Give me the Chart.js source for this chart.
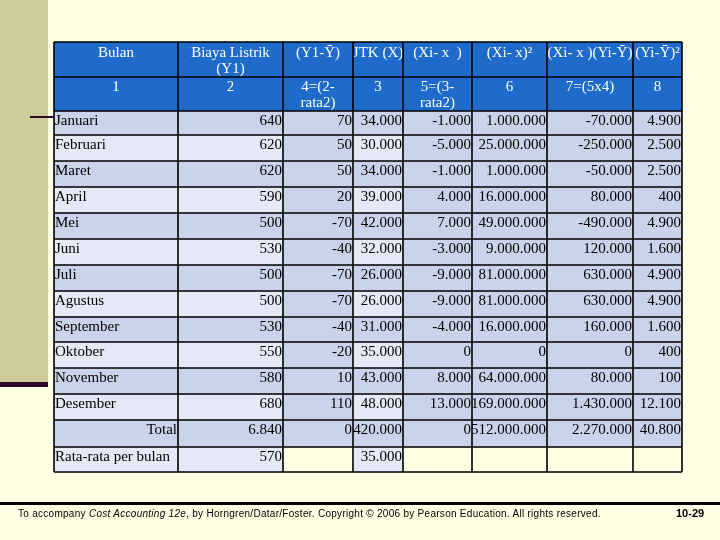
<!DOCTYPE html>
<html>
<head>
<meta charset="utf-8">
<script src="https://cdn.jsdelivr.net/npm/chart.js@4.4.0/dist/chart.umd.min.js"></script>
<style>
    body { margin: 0; background: #FFFFE3; }
    #page { position: relative; width: 720px; height: 540px; overflow: hidden; background: #FFFFE3; }
    #sidebar { position: absolute; left: 0; top: 0; width: 48px; height: 382px; background: #CCCC99; }
    #sidebarLine { position: absolute; left: 0; top: 382px; width: 48px; height: 5px; background: #2D0A2A; }
    #marker { position: absolute; left: 30px; top: 116px; width: 24px; height: 2px; background: #2D0A2A; }
    #chartBox { position: absolute; left: 0; top: 0; width: 720px; height: 540px; }
    #footLine { position: absolute; left: 0; top: 502px; width: 720px; height: 3px; background: #000; }
    #footText { position: absolute; left: 18px; top: 508px; font: 10px "Liberation Sans", Arial, sans-serif; letter-spacing: 0.28px; color: #000; white-space: nowrap; }
    #pageNo { position: absolute; left: 676px; top: 507px; font: bold 11px "Liberation Sans", Arial, sans-serif; color: #000; }
</style>
</head>
<body>
<div id="page">
    <div id="sidebar"></div>
    <div id="sidebarLine"></div>
    <div id="chartBox"><canvas id="tableChart"></canvas></div>
    <div id="marker"></div>
    <div id="footLine"></div>
    <div id="footText">To accompany <i>Cost Accounting 12e</i>, by Horngren/Datar/Foster. Copyright © 2006 by Pearson Education. All rights reserved.</div>
    <div id="pageNo">10-29</div>
</div>
<script>
// header texts
const headerTop = [["Bulan"], ["Biaya Listrik", "(Y1)"], ["(Y1-Ȳ)"], ["JTK (X)"], ["(Xi- x  )"], ["(Xi- x)²"], ["(Xi- x )(Yi-Ȳ)"], ["(Yi-Ȳ)²"]];
const headerNum = [["1"], ["2"], ["4=(2-", "rata2)"], ["3"], ["5=(3-", "rata2)"], ["6"], ["7=(5x4)"], ["8"]];

// data
const months = ["Januari", "Februari", "Maret", "April", "Mei", "Juni", "Juli", "Agustus", "September", "Oktober", "November", "Desember"];
const biayaListrik = [640, 620, 620, 590, 500, 530, 500, 500, 530, 550, 580, 680];
const selisihY = [70, 50, 50, 20, -70, -40, -70, -70, -40, -20, 10, 110];
const jtk = [34000, 30000, 34000, 39000, 42000, 32000, 26000, 26000, 31000, 35000, 43000, 48000];
const selisihX = [-1000, -5000, -1000, 4000, 7000, -3000, -9000, -9000, -4000, 0, 8000, 13000];
const selisihX2 = [1000000, 25000000, 1000000, 16000000, 49000000, 9000000, 81000000, 81000000, 16000000, 0, 64000000, 169000000];
const selisihXY = [-70000, -250000, -50000, 80000, -490000, 120000, 630000, 630000, 160000, 0, 80000, 1430000];
const selisihY2 = [4900, 2500, 2500, 400, 4900, 1600, 4900, 4900, 1600, 400, 100, 12100];
const totalRow = ["Total", 6840, 0, 420000, 0, 512000000, 2270000, 40800];
const averageRow = ["Rata-rata per bulan", 570, null, 35000, null, null, null, null];

// layout (pixels)
const colWidths = [124, 105, 70, 50, 69, 75, 86, 49];
const rowHeights = [35, 34, 24, 26, 26, 26, 26, 26, 26, 26, 25, 26, 26, 26, 27, 25];

const HEAD_BLUE = "#1F6BCC";
const DARK = "#C9D3EA";
const LIGHT = "#E5E9F5";
const CREAM = "#FFFFE3";
const HEAD_TEXT = "#FFFFF0";

function fmt(v) {
    if (v === null || v === undefined) return "";
    if (typeof v === "string") return v;
    const s = Math.abs(v).toString().replace(/\B(?=(\d{3})+(?!\d))/g, ".");
    return (v < 0 ? "-" : "") + s;
}

const bodyRows = months.map((m, i) => [m, biayaListrik[i], selisihY[i], jtk[i], selisihX[i], selisihX2[i], selisihXY[i], selisihY2[i]]);
bodyRows.push(totalRow);
bodyRows.push(averageRow);

const colEdges = [0];
colWidths.forEach(w => colEdges.push(colEdges[colEdges.length - 1] + w));
const rowEdges = [0];
rowHeights.forEach(h => rowEdges.push(rowEdges[rowEdges.length - 1] + h));

function cellFill(r, c) {
    if (r < 2) return HEAD_BLUE;
    const i = r - 2;
    const striped = (c === 0 || c === 1 || c === 3);
    if (i === bodyRows.length - 1) return striped ? LIGHT : CREAM;
    if (!striped) return DARK;
    return i % 2 === 0 ? DARK : LIGHT;
}

const tablePlugin = {
    id: "tablePlugin",
    afterDraw(chart) {
        const ctx = chart.ctx;
        const xs = chart.scales.x, ys = chart.scales.y;
        const X = v => Math.round(xs.getPixelForValue(v));
        const Y = v => Math.round(ys.getPixelForValue(v));
        const nRows = rowHeights.length;

        ctx.save();
        // cell backgrounds
        for (let r = 0; r < nRows; r++) {
            for (let c = 0; c < colWidths.length; c++) {
                ctx.fillStyle = cellFill(r, c);
                ctx.fillRect(X(colEdges[c]), Y(rowEdges[r]), X(colEdges[c + 1]) - X(colEdges[c]), Y(rowEdges[r + 1]) - Y(rowEdges[r]));
            }
        }

        // texts
        ctx.textBaseline = "alphabetic";
        ctx.font = "15px 'Liberation Serif', 'Times New Roman', serif";
        [headerTop, headerNum].forEach((row, r) => {
            ctx.fillStyle = HEAD_TEXT;
            ctx.textAlign = "center";
            row.forEach((lines, c) => {
                const cx = (X(colEdges[c]) + X(colEdges[c + 1])) / 2;
                lines.forEach((t, k) => {
                    ctx.fillText(t, cx, Y(rowEdges[r]) + (r === 0 ? 15 : 14) + k * 16);
                });
            });
        });
        ctx.fillStyle = "#000";
        bodyRows.forEach((row, i) => {
            const r = i + 2;
            const base = Y(rowEdges[r]) + 14;
            row.forEach((v, c) => {
                const t = fmt(v);
                if (!t) return;
                // month names and the last label sit left, the rest right
                if (c === 0 && i !== bodyRows.length - 2) {
                    ctx.textAlign = "left";
                    ctx.fillText(t, X(colEdges[c]) + 1, base);
                } else {
                    ctx.textAlign = "right";
                    ctx.fillText(t, X(colEdges[c + 1]) - 1, base);
                }
            });
        });

        // grid lines
        ctx.strokeStyle = "#000";
        ctx.lineWidth = 1.6;
        ctx.beginPath();
        rowEdges.forEach(e => {
            ctx.moveTo(X(0), Y(e));
            ctx.lineTo(X(colEdges[colEdges.length - 1]), Y(e));
        });
        colEdges.forEach(e => {
            ctx.moveTo(X(e), Y(0));
            ctx.lineTo(X(e), Y(rowEdges[rowEdges.length - 1]));
        });
        ctx.stroke();
        ctx.restore();
    }
};

const ctxTable = document.getElementById("tableChart").getContext("2d");
const tableChart = new Chart(ctxTable, {
    type: "scatter",
    data: { datasets: [] },
    options: {
        responsive: true,
        maintainAspectRatio: false,
        animation: false,
        layout: { padding: { left: 54, top: 42, right: 38, bottom: 68 } },
        scales: {
            x: { type: "linear", min: 0, max: colEdges[colEdges.length - 1], display: false },
            y: { type: "linear", min: 0, max: rowEdges[rowEdges.length - 1], reverse: true, display: false }
        },
        plugins: { legend: { display: false }, tooltip: { enabled: false } }
    },
    plugins: [tablePlugin]
});
</script>
</body>
</html>
